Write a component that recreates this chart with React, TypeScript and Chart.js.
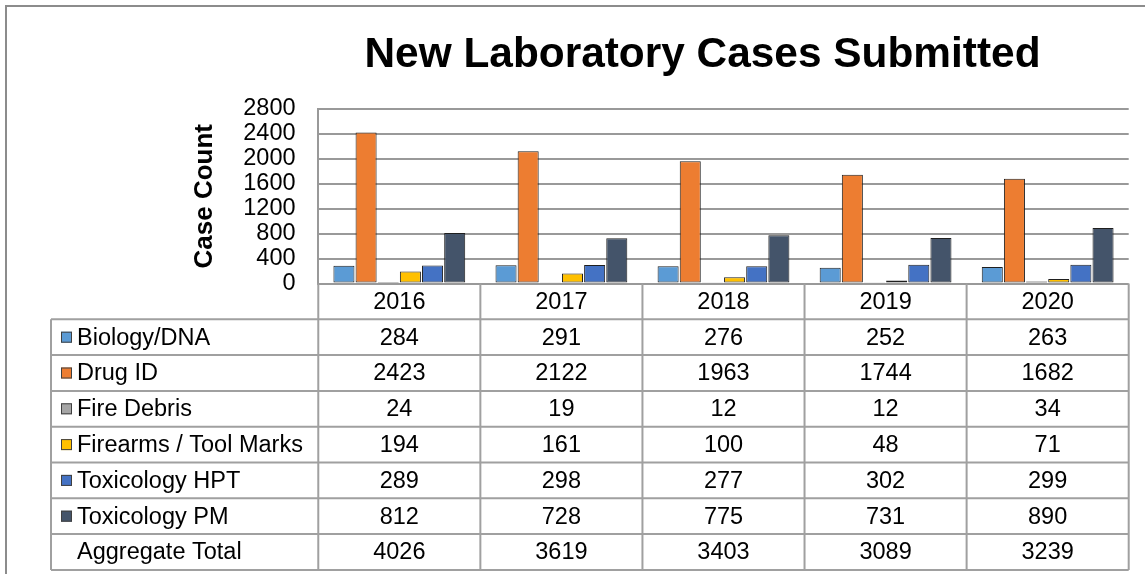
import React, { useEffect, useRef } from 'react';
import { Chart, registerables } from 'chart.js';

Chart.register(...registerables);

const categories = ['2016', '2017', '2018', '2019', '2020'];
const biologyDNA = [284, 291, 276, 252, 263];
const drugID = [2423, 2122, 1963, 1744, 1682];
const fireDebris = [24, 19, 12, 12, 34];
const firearmsToolMarks = [194, 161, 100, 48, 71];
const toxicologyHPT = [289, 298, 277, 302, 299];
const toxicologyPM = [812, 728, 775, 731, 890];
const aggregateTotal = [4026, 3619, 3403, 3089, 3239];

const seriesNames = ['Biology/DNA', 'Drug ID', 'Fire Debris', 'Firearms / Tool Marks', 'Toxicology HPT', 'Toxicology PM'];
const seriesValues = [biologyDNA, drugID, fireDebris, firearmsToolMarks, toxicologyHPT, toxicologyPM];
const seriesColors = ['#5B9BD5', '#ED7D31', '#A5A5A5', '#FFC000', '#4472C4', '#44546A'];
const totalLabel = 'Aggregate Total';
const chartTitle = 'New Laboratory Cases Submitted';
const yAxisTitle = 'Case Count';
const yMin = 0;
const yMax = 2800;
const yStep = 400;

const FONT = "'Liberation Sans', Arial, sans-serif";
const W = 1145;
const H = 574;

const tablePlugin = {
  id: 'tablePlugin',
  afterDraw(chart: any) {
    const ctx = chart.ctx as CanvasRenderingContext2D;
    const area = chart.chartArea;
    const xs = chart.scales.x;
    const n = chart.data.labels.length;
    const centers: number[] = [];
    for (let i = 0; i < n; i++) centers.push(xs.getPixelForValue(i));
    const step = n > 1 ? centers[1] - centers[0] : area.right - area.left;
    const edges = [centers[0] - step / 2, ...centers.map((c) => c + step / 2)];
    const legendLeft = 51;
    const rowH = 35.8;
    const top = area.bottom;
    const datasets = chart.data.datasets;
    const rows = datasets.length + 1;
    const rowTop = (r: number) => top + rowH * (r + 1);
    const bottom = rowTop(rows);

    ctx.save();
    // outer frame
    ctx.strokeStyle = '#8c8c8c';
    ctx.lineWidth = 2;
    ctx.beginPath();
    ctx.moveTo(6, H);
    ctx.lineTo(6, 6);
    ctx.lineTo(W, 6);
    ctx.stroke();

    // title
    ctx.fillStyle = '#000';
    ctx.font = `bold 42.4px ${FONT}`;
    ctx.textAlign = 'center';
    ctx.textBaseline = 'alphabetic';
    ctx.fillText(chartTitle, 702.5, 67);

    // table grid
    ctx.strokeStyle = '#a0a0a0';
    ctx.lineWidth = 2;
    ctx.beginPath();
    for (let r = 0; r <= rows; r++) {
      const y = rowTop(r);
      ctx.moveTo(legendLeft, y);
      ctx.lineTo(edges[n], y);
    }
    for (let i = 0; i <= n; i++) {
      ctx.moveTo(edges[i], top);
      ctx.lineTo(edges[i], bottom);
    }
    ctx.moveTo(legendLeft, rowTop(0));
    ctx.lineTo(legendLeft, bottom);
    ctx.stroke();

    // text
    ctx.font = `23.5px ${FONT}`;
    ctx.fillStyle = '#000';
    ctx.textBaseline = 'middle';
    ctx.textAlign = 'center';
    const headerY = top + rowH / 2;
    chart.data.labels.forEach((lab: string, i: number) => ctx.fillText(lab, centers[i], headerY + 1));

    datasets.forEach((ds: any, r: number) => {
      const cy = rowTop(r) + rowH / 2;
      ctx.fillStyle = ds.backgroundColor;
      ctx.fillRect(61, cy - 5.5, 11, 11);
      ctx.strokeStyle = '#404040';
      ctx.lineWidth = 1;
      ctx.strokeRect(61.5, cy - 5, 10, 10);
      ctx.fillStyle = '#000';
      ctx.textAlign = 'left';
      ctx.fillText(ds.label, 77, cy + 1);
      ctx.textAlign = 'center';
      ds.data.forEach((v: number, i: number) => ctx.fillText(String(v), centers[i], cy + 1));
    });
    const ty = rowTop(rows - 1) + rowH / 2;
    ctx.textAlign = 'left';
    ctx.fillText(totalLabel, 77, ty + 1);
    ctx.textAlign = 'center';
    aggregateTotal.forEach((v, i) => ctx.fillText(String(v), centers[i], ty + 1));
    ctx.restore();
  },
};

export default function App() {
  const ref = useRef<HTMLCanvasElement>(null);
  useEffect(() => {
    const chart = new Chart(ref.current as HTMLCanvasElement, {
      type: 'bar',
      data: {
        labels: categories,
        datasets: seriesNames.map((name, i) => ({
          label: name,
          data: seriesValues[i],
          backgroundColor: seriesColors[i],
          borderColor: '#1f1f1f',
          borderWidth: 1,
          borderSkipped: false,
          categoryPercentage: 0.82,
          barPercentage: 0.95,
        })),
      },
      options: {
        responsive: false,
        animation: false,
        layout: { padding: { left: 187.4, right: 16.3, top: 109, bottom: 290.5 } },
        plugins: {
          legend: { display: false },
          tooltip: { enabled: false },
          title: { display: false },
        },
        scales: {
          x: { display: false, grid: { display: false } },
          y: {
            min: yMin,
            max: yMax,
            ticks: {
              stepSize: yStep,
              autoSkip: false,
              color: '#000',
              font: { family: FONT, size: 23.5 },
              padding: 22.7,
              callback: (v: any) => String(v),
            },
            grid: { color: '#999', lineWidth: 2, drawTicks: false },
            border: { display: true, color: '#999', width: 2 },
            title: {
              display: true,
              text: yAxisTitle,
              color: '#000',
              font: { family: FONT, size: 26, weight: 'bold' },
              padding: { top: 2, bottom: 0 },
            },
          },
        },
      },
      plugins: [tablePlugin],
    } as any);
    return () => chart.destroy();
  }, []);
  return (
    <div style={{ position: 'absolute', left: 0, top: 0, width: W, height: H, background: '#fff' }}>
      <canvas ref={ref} width={W} height={H} style={{ display: 'block', width: W, height: H }} />
    </div>
  );
}
